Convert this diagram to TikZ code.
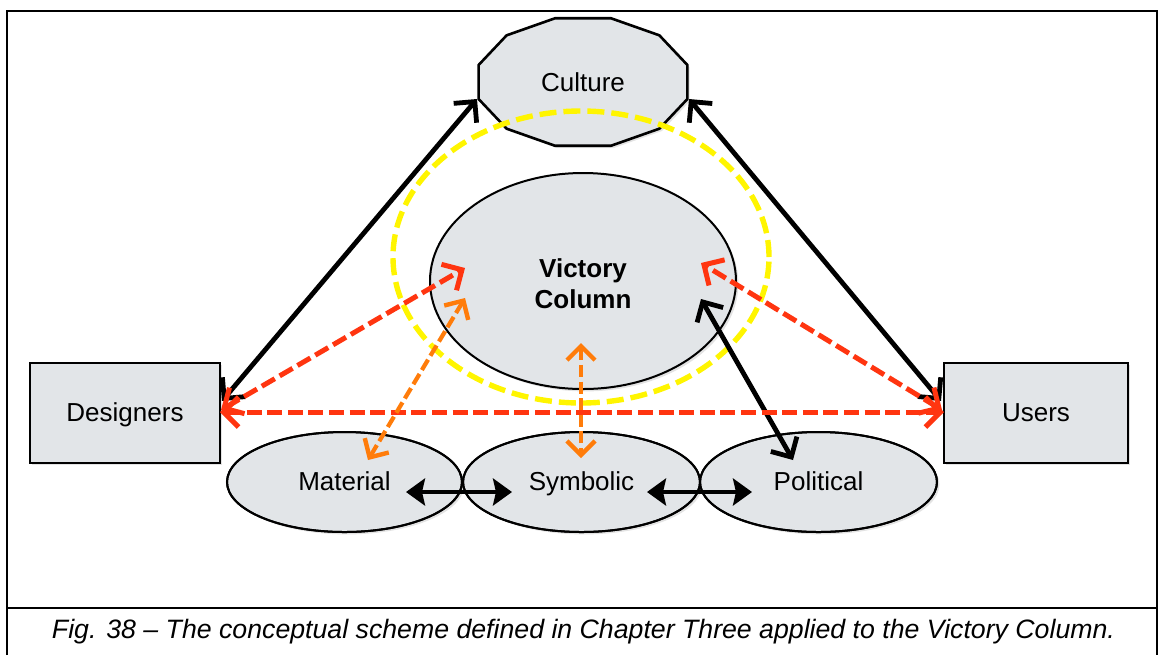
\documentclass[tikz,border=0pt]{standalone}
\usepackage{fontspec}
\setmainfont{Liberation Sans}
\usetikzlibrary{arrows.meta,shapes.geometric,shadows,calc}
\definecolor{shapefill}{HTML}{E2E5E8}
\definecolor{redarr}{HTML}{FF3510}
\definecolor{orarr}{HTML}{FF7C0A}
\definecolor{yel}{HTML}{FFF500}
\begin{document}
\begin{tikzpicture}[x=0.5pt,y=-0.5pt,
  shp/.style={draw=black,line width=1pt,fill=shapefill,
    drop shadow={opacity=0.22,shadow xshift=1.2pt,shadow yshift=-1.2pt}},
  lbl/.style={font=\fontsize{13}{15.5}\selectfont,text height=0.86em,text depth=0em},
  ellnode/.style={shp,ellipse,inner sep=0pt,lbl},
  boxnode/.style={shp,rectangle,inner sep=0pt,lbl},
  blkarrow/.style={line width=2.4pt,{Straight Barb[length=7.5pt,width=15pt,line width=2.4pt]}-{Straight Barb[length=7.5pt,width=15pt,line width=2.4pt]}},
  fillarrow/.style={line width=2.3pt,{Stealth[length=9.5pt,width=13.5pt,inset=1.5pt]}-{Stealth[length=9.5pt,width=13.5pt,inset=1.5pt]}},
  redarrow/.style={draw=redarr,line width=2.5pt,dash pattern=on 7.5pt off 2.8pt,
    {Straight Barb[length=7.5pt,width=15pt,line width=2.5pt]}-{Straight Barb[length=7.5pt,width=15pt,line width=2.5pt]}},
  orarrow/.style={draw=orarr,line width=2.1pt,dash pattern=on 6pt off 2.3pt,
    {Straight Barb[length=7pt,width=14pt,line width=2.2pt]}-{Straight Barb[length=7pt,width=14pt,line width=2.2pt]}},
  frameline/.style={line width=1.2pt}
]
\useasboundingbox (0,0) rectangle (1162,655);

% frame
\draw[frameline] (7,655) -- (7,11) -- (1157,11) -- (1157,655);
\draw[frameline] (7,608) -- (1157,608);

% Victory Column
\node[ellnode,minimum width=153pt,minimum height=108pt,text height=,text depth=] (vic) at (583,281) {};
\node[align=center,inner sep=0pt,font=\fontsize{13}{15.5}\selectfont\bfseries] (victext) at (583,284) {Victory\\Column};

% Culture (stretched dodecagon)
\draw[shp,line width=1.3pt] plot[samples at={15,45,...,345}] ({583+108*cos(\x)},{82-66*sin(\x)}) -- cycle;
\node[lbl] (culture) at (583,83) {Culture};

% Designers / Users
\node[boxnode,minimum width=95pt,minimum height=50pt] (des) at (125,413) {Designers};
\node[boxnode,minimum width=92pt,minimum height=50pt] (usr) at (1036,413) {Users};

% lower ellipses
\node[ellnode,minimum width=117.5pt,minimum height=50pt] (mat) at (344.5,482) {Material};
\node[ellnode,minimum width=118.5pt,minimum height=50pt] (sym) at (581.5,482) {Symbolic};
\node[ellnode,minimum width=118.5pt,minimum height=50pt] (pol) at (818.5,482) {Political};
\draw[line width=1pt] (mat.center) ellipse [x radius=117.5, y radius=50];
\draw[line width=1pt] (sym.center) ellipse [x radius=118.5, y radius=50];
\draw[line width=1pt] (pol.center) ellipse [x radius=118.5, y radius=50];

% yellow dashed halo
\node[ellipse,draw=yel,line width=2.7pt,dash pattern=on 8.5pt off 3.5pt,minimum width=188pt,minimum height=146pt,inner sep=0pt] (halo) at (581,257) {};

% connector end points
\coordinate (cL) at (477,99);
\coordinate (cR) at (689,99);
\coordinate (dTop) at (222,401);
\coordinate (uTop) at (941,401);
\coordinate (dMid) at (220,412);
\coordinate (uMid) at (944,412);
\coordinate (dDiag) at (221,410);
\coordinate (uDiag) at (942,410);
\coordinate (vL) at (465,268);
\coordinate (vLo) at (465,298);
\coordinate (vR) at (701,263);
\coordinate (vRb) at (701,299);
\coordinate (vB) at (581,343);
\coordinate (matT) at (368,460);
\coordinate (symT) at (581,458);
\coordinate (polT) at (793,460);
\coordinate (matR) at (406,492);
\coordinate (symL) at (512,492);
\coordinate (symR) at (647,492);
\coordinate (polL) at (752,492);

% black solid arrows
\draw[blkarrow] (dTop) -- (cL);
\draw[blkarrow] (uTop) -- (cR);
\draw[blkarrow] (vRb) -- (polT);

% red dashed arrows
\draw[redarrow] (dMid) -- (uMid);
\draw[redarrow] (dDiag) -- (vL);
\draw[redarrow] (uDiag) -- (vR);

% orange dashed arrows
\draw[orarrow] (matT) -- (vLo);
\draw[orarrow] (vB) -- (symT);

% filled arrows between lower ellipses
\draw[fillarrow] (matR) -- (symL);
\draw[fillarrow] (symR) -- (polL);

% caption
\node (cap) at (583.5,632) {\resizebox{531.5pt}{\height}{\fontsize{13.3}{16}\selectfont\itshape Fig. 38 – The conceptual scheme defined in Chapter Three applied to the Victory Column.}};
\end{tikzpicture}
\end{document}
